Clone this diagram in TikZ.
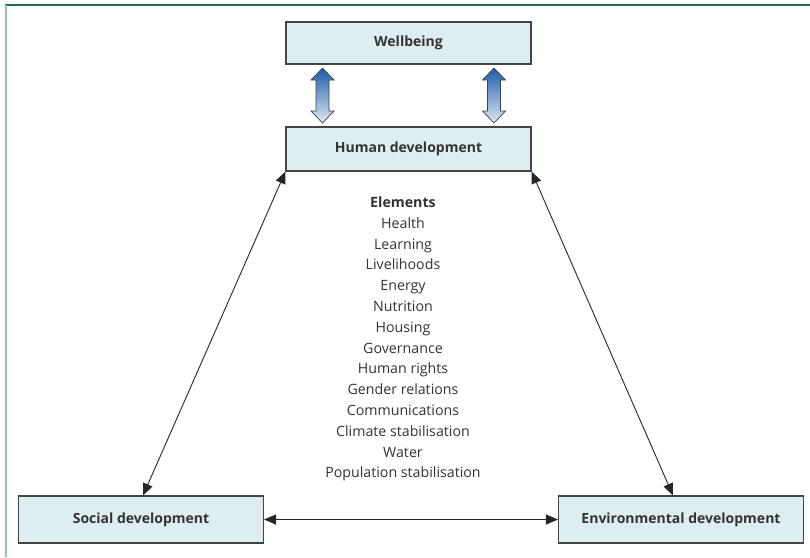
\documentclass[tikz,border=0pt]{standalone}
\usepackage{fontspec}
\setmainfont{Open Sans}
\usetikzlibrary{arrows.meta,calc}
\definecolor{boxfill}{HTML}{DDEEF3}
\definecolor{boxline}{HTML}{444444}
\definecolor{txt}{HTML}{333333}
\definecolor{topgreen}{HTML}{1F6B48}
\definecolor{leftgreen}{HTML}{8FC3A4}
\definecolor{arrdark}{HTML}{1A5CA8}
\definecolor{arrlight}{HTML}{E0E8F4}
\tikzset{
  box/.style={draw=boxline, line width=1.1pt, fill=boxfill, minimum width=245pt, inner sep=0pt, text=txt, font=\bfseries\fontsize{14pt}{16pt}\selectfont},
  link/.style={line width=0.9pt, draw=black!85, {Triangle[length=12pt,width=10pt]}-{Triangle[length=12pt,width=10pt]}},
  hollow/.style={draw=boxline, line width=0.7pt, top color=arrdark, bottom color=arrlight}
}
\begin{document}
\begin{tikzpicture}[x=1pt,y=-1pt]
\useasboundingbox (0,0) rectangle (810,557);
\draw[topgreen, line width=1.6pt] (5,5) -- (810,5);
\draw[leftgreen, line width=2.2pt] (6,5) -- (6,557);
\node[box, minimum height=42pt] (wb) at (408.5,43) {Wellbeing};
\node[box, minimum height=44pt] (hd) at (408.5,149) {Human development};
\node[box, minimum height=47pt] (soc) at (141,519.5) {Social development};
\node[box, minimum height=47pt] (env) at (681,519.5) {Environmental development};
% hollow double arrows
\foreach \cx in {322.5,494} {
  \path[hollow] (\cx,68) -- (\cx+11.5,80) -- (\cx+6.5,80) -- (\cx+6.5,111) -- (\cx+11.5,111)
    -- (\cx,123) -- (\cx-11.5,111) -- (\cx-6.5,111) -- (\cx-6.5,80) -- (\cx-11.5,80) -- cycle;
}
\draw[link] (hd.south west) -- ($(soc.north)+(2,0)$);
\draw[link] (hd.south east) -- ($(env.north)+(-8,0)$);
\draw[link] (soc.east) -- (env.west);
\node[text=txt, align=center, font=\fontsize{14.2pt}{20.8pt}\selectfont] (el) at (403,339)
{\textbf{Elements}\\Health\\Learning\\Livelihoods\\Energy\\Nutrition\\Housing\\Governance\\Human rights\\Gender relations\\Communications\\Climate stabilisation\\Water\\Population stabilisation};
\end{tikzpicture}
\end{document}
